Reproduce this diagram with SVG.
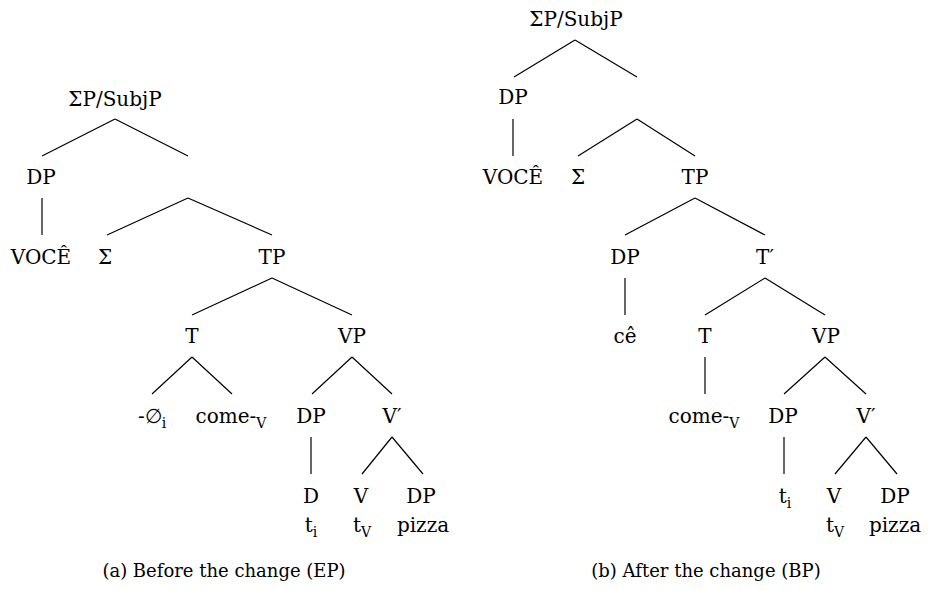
<svg xmlns="http://www.w3.org/2000/svg" width="932" height="591" viewBox="0 0 932 591">
<style>
text{font-family:'DejaVu Serif','Liberation Serif',serif;font-size:20px;fill:#000;text-anchor:middle}
.sub{font-size:14px}
.cap{font-size:18px}
.edges line{stroke:#000;stroke-width:1.2;fill:none}
</style>
<rect width="932" height="591" fill="#fff"/>
<g class="edges" id="connectors">
<line x1="115" y1="119" x2="42" y2="156"/>
<line x1="115" y1="119" x2="188" y2="156"/>
<line x1="42" y1="198" x2="42" y2="235"/>
<line x1="188" y1="198" x2="107" y2="235"/>
<line x1="188" y1="198" x2="272" y2="235"/>
<line x1="272" y1="278" x2="192" y2="315"/>
<line x1="272" y1="278" x2="352" y2="315"/>
<line x1="192" y1="357" x2="152" y2="394"/>
<line x1="192" y1="357" x2="232" y2="394"/>
<line x1="352" y1="357" x2="312" y2="394"/>
<line x1="352" y1="357" x2="392" y2="394"/>
<line x1="311" y1="437" x2="311" y2="474"/>
<line x1="392" y1="437" x2="362" y2="474"/>
<line x1="392" y1="437" x2="423" y2="474"/>
<line x1="575" y1="40" x2="514" y2="77"/>
<line x1="575" y1="40" x2="637" y2="77"/>
<line x1="513" y1="119" x2="513" y2="156"/>
<line x1="637" y1="119" x2="578" y2="156"/>
<line x1="637" y1="119" x2="695" y2="156"/>
<line x1="695" y1="198" x2="625" y2="235"/>
<line x1="695" y1="198" x2="765" y2="235"/>
<line x1="625" y1="278" x2="625" y2="315"/>
<line x1="765" y1="278" x2="705" y2="315"/>
<line x1="765" y1="278" x2="825" y2="315"/>
<line x1="705" y1="357" x2="705" y2="394"/>
<line x1="825" y1="357" x2="784" y2="394"/>
<line x1="825" y1="357" x2="866" y2="394"/>
<line x1="784" y1="437" x2="784" y2="474"/>
<line x1="866" y1="437" x2="835" y2="474"/>
<line x1="866" y1="437" x2="897" y2="474"/>
</g>
<g id="a-root"><text x="115" y="106">ΣP/SubjP</text></g>
<g id="a-dp"><text x="41" y="184">DP</text></g>
<g id="a-voce"><text x="41" y="264">VOCÊ</text></g>
<g id="a-sigma"><text x="105" y="264">Σ</text></g>
<g id="a-tp"><text x="272" y="264">TP</text></g>
<g id="a-t"><text x="192" y="343">T</text></g>
<g id="a-vp"><text x="352" y="343">VP</text></g>
<g id="a-null"><text x="152" y="423">-∅<tspan class="sub" dy="5">i</tspan></text></g>
<g id="a-come"><text x="231" y="423">come-<tspan class="sub" dy="5">V</tspan></text></g>
<g id="a-dp2"><text x="311" y="423">DP</text></g>
<g id="a-vbar"><text x="392" y="423">V′</text></g>
<g id="a-d"><text x="311" y="503">D</text><text x="311" y="532">t<tspan class="sub" dy="5">i</tspan></text></g>
<g id="a-v"><text x="361" y="503">V</text><text x="362" y="532">t<tspan class="sub" dy="5">V</tspan></text></g>
<g id="a-dp3"><text x="421" y="503">DP</text><text x="423" y="532">pizza</text></g>
<g id="caption-a"><text class="cap" x="224" y="577">(a) Before the change (EP)</text></g>
<g id="b-root"><text x="576" y="26">ΣP/SubjP</text></g>
<g id="b-dp"><text x="513" y="104">DP</text></g>
<g id="b-voce"><text x="513" y="184">VOCÊ</text></g>
<g id="b-sigma"><text x="578" y="184">Σ</text></g>
<g id="b-tp"><text x="695" y="184">TP</text></g>
<g id="b-dp2"><text x="625" y="264">DP</text></g>
<g id="b-tbar"><text x="765" y="264">T′</text></g>
<g id="b-ce"><text x="625" y="343">cê</text></g>
<g id="b-t"><text x="705" y="343">T</text></g>
<g id="b-vp"><text x="826" y="343">VP</text></g>
<g id="b-come"><text x="704" y="423">come-<tspan class="sub" dy="5">V</tspan></text></g>
<g id="b-dp3"><text x="783" y="423">DP</text></g>
<g id="b-vbar"><text x="866" y="423">V′</text></g>
<g id="b-ti"><text x="785" y="503">t<tspan class="sub" dy="5">i</tspan></text></g>
<g id="b-v"><text x="834" y="503">V</text><text x="835" y="532">t<tspan class="sub" dy="5">V</tspan></text></g>
<g id="b-dp4"><text x="895" y="503">DP</text><text x="895" y="532">pizza</text></g>
<g id="caption-b"><text class="cap" x="706" y="577">(b) After the change (BP)</text></g>
</svg>
